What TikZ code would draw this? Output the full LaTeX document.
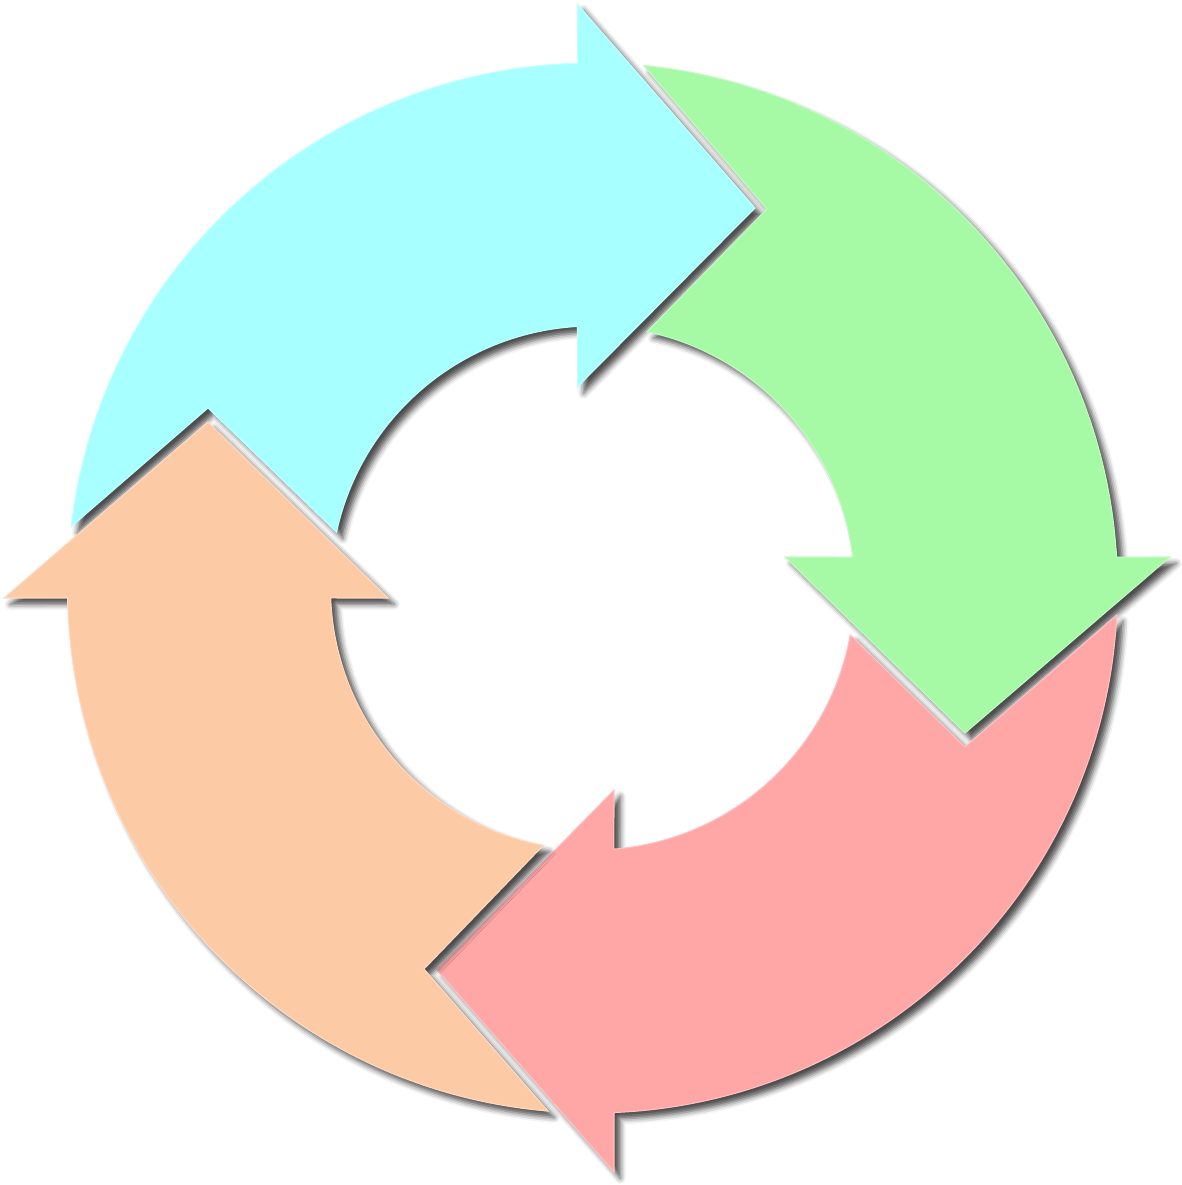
\documentclass[tikz,border=0pt]{standalone}
\usepackage{tikz}
\usetikzlibrary{shadows.blur}
\definecolor{cyanarrow}{RGB}{168,255,255}
\definecolor{greenarrow}{RGB}{166,250,166}
\definecolor{pinkarrow}{RGB}{255,166,166}
\definecolor{orangearrow}{RGB}{253,202,166}
\tikzset{cyclearrow/.style = {fill=#1, draw=#1!70!white, line width=0.3pt,
                              blur shadow={shadow xshift=1.8pt, shadow yshift=-1.8pt,
                                           shadow blur radius=1.6pt, shadow opacity=70}}}

\begin{document}
\begin{tikzpicture}[x=0.01cm, y=0.01cm]
  \useasboundingbox (0, 0) rectangle (1182, -1185);
  \begin{scope}[shift={(592.5, -588)}]
    % top: cyan
    \path [cyclearrow=cyanarrow] (173.3:525) arc [start angle=173.3, end angle=91.66, radius=525]
      -- (-15.2, 584) -- (162.5, 380) -- (-15.2, 201) -- (93.32:262)
      arc [start angle=93.32, end angle=167.7, radius=262] -- (-384.5, 180) -- cycle;
    % right: green
    \path [cyclearrow=greenarrow] (84.4:525) arc [start angle=84.4, end angle=3.38, radius=525]
      -- (577.5, 31) -- (372.5, -145) -- (192.5, 31) -- (6.79:262)
      arc [start angle=6.79, end angle=77.98, radius=262] -- (174.5, 379) -- cycle;
    % bottom: pink
    \path [cyclearrow=pinkarrow] (-2.95:525) arc [start angle=-2.95, end angle=-87.65, radius=525]
      -- (21.5, -584) -- (-155.5, -382) -- (21.5, -202) -- (-85.31:262)
      arc [start angle=-85.31, end angle=-10.3, radius=262] -- (372.5, -159) -- cycle;
    % left: orange
    \path [cyclearrow=orangearrow] (-94.85:525) arc [start angle=-94.85, end angle=-178.91, radius=525]
      -- (-588.5, -10) -- (-384.5, 166) -- (-204.5, -10) -- (-177.82:262)
      arc [start angle=-177.82, end angle=-100.82, radius=262] -- (-168.5, -381) -- cycle;
  \end{scope}
\end{tikzpicture}
\end{document}
